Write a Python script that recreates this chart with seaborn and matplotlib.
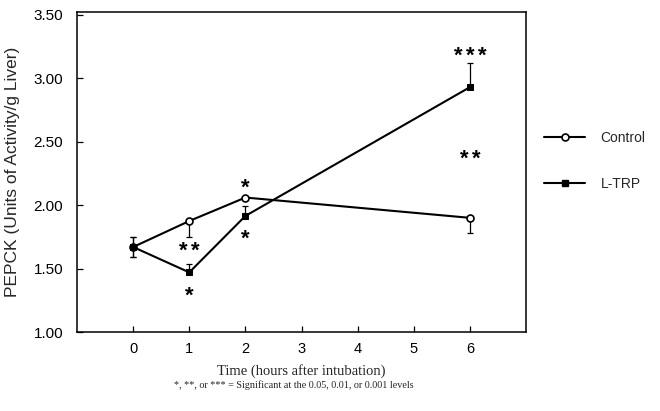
"""PEPCK activity after L-TRP intubation, control vs treated."""

import matplotlib
matplotlib.use('Agg')
import matplotlib.pyplot as plt
from matplotlib.lines import Line2D
import pandas as pd
import seaborn as sns

hours = [0, 1, 2, 6]
control = [1.67, 1.875, 2.06, 1.90]
ltrp = [1.67, 1.47, 1.915, 2.93]

# asymmetric SEM bars (lower, upper) as drawn in the figure
control_err_lo = [0.075, 0.13, 0.0, 0.12]
control_err_hi = [0.075, 0.0, 0.0, 0.0]
ltrp_err_lo = [0.075, 0.0, 0.0, 0.0]
ltrp_err_hi = [0.075, 0.07, 0.075, 0.19]

# significance marks: x, centre y, number of stars
star_x = [2, 2, 1, 1, 6, 6]
star_y = [2.16, 1.76, 1.66, 1.31, 3.20, 2.39]
star_n = [1, 1, 2, 1, 3, 2]

x_ticks = [0, 1, 2, 3, 4, 5, 6]
y_ticks = [1.00, 1.50, 2.00, 2.50, 3.00, 3.50]

sns.set_style('ticks')
plt.rcParams['font.family'] = ['Liberation Sans', 'DejaVu Sans']

STAR_SIZE = 16
STAR_GAP = 8.6  # points between star centres


def main():
    df_c = pd.DataFrame({'hours': hours, 'pepck': control})
    df_t = pd.DataFrame({'hours': hours, 'pepck': ltrp})

    fig = plt.figure(figsize=(6.6, 4.11), dpi=100)
    ax = fig.add_axes([0.1167, 0.1922, 0.6803, 0.7778])

    ax.errorbar(hours, control, yerr=[control_err_lo, control_err_hi],
                fmt='none', ecolor='black', elinewidth=0.9, capsize=2.5, capthick=0.9)
    ax.errorbar(hours, ltrp, yerr=[ltrp_err_lo, ltrp_err_hi],
                fmt='none', ecolor='black', elinewidth=0.9, capsize=2.5, capthick=0.9)

    sns.lineplot(data=df_c, x='hours', y='pepck', ax=ax, color='black', lw=1.5,
                 marker='o', markersize=5, markerfacecolor='white',
                 markeredgecolor='black', markeredgewidth=1.2, zorder=3)
    sns.lineplot(data=df_t, x='hours', y='pepck', ax=ax, color='black', lw=1.5,
                 marker='s', markersize=5, markerfacecolor='black',
                 markeredgecolor='black', zorder=3)

    # asterisks drawn one by one so they get the wide spacing of the original
    for x, y, n in zip(star_x, star_y, star_n):
        for i in range(n):
            dx = (i - (n - 1) / 2) * STAR_GAP
            ax.annotate('*', (x, y), xytext=(dx, -0.4 * STAR_SIZE),
                        textcoords='offset points', ha='center', va='baseline',
                        fontsize=STAR_SIZE, fontweight='bold', color='black')

    ax.set_xlim(-1, 7)
    ax.set_ylim(1.0, 3.52)
    ax.set_xticks(x_ticks)
    ax.set_yticks(y_ticks)
    ax.set_yticklabels([f'{v:.2f}' for v in y_ticks])
    ax.tick_params(direction='in', length=4, width=0.9, colors='black')
    ax.tick_params(axis='y', labelsize=11, pad=10)
    ax.tick_params(axis='x', labelsize=10.5, pad=7)
    for s in ax.spines.values():
        s.set_visible(True)
        s.set_color('black')
        s.set_linewidth(1.1)

    ax.set_xlabel('Time (hours after intubation)', family=['Liberation Serif'],
                  fontsize=10.5, labelpad=6)
    ax.set_ylabel('PEPCK (Units of Activity/g Liver)', fontsize=12.5)
    ax.yaxis.set_label_coords(-0.127, 0.5)

    handles = [
        Line2D([], [], color='black', lw=1.5, marker='o', markersize=5,
               markerfacecolor='white', markeredgewidth=1.2),
        Line2D([], [], color='black', lw=1.5, marker='s', markersize=5),
    ]
    fig.legend(handles, ['Control', 'L-TRP'], loc='center left',
               bbox_to_anchor=(0.805, 0.608), frameon=False, fontsize=10,
               handlelength=3.0, handletextpad=1.1, labelspacing=2.3)

    fig.text(0.445, 0.063, '*, **, or *** = Significant at the 0.05, 0.01, or 0.001 levels',
             ha='center', va='center', family=['Liberation Serif'], fontsize=7.3)

    fig.savefig('out.png', dpi=100)


if __name__ == '__main__':
    main()
